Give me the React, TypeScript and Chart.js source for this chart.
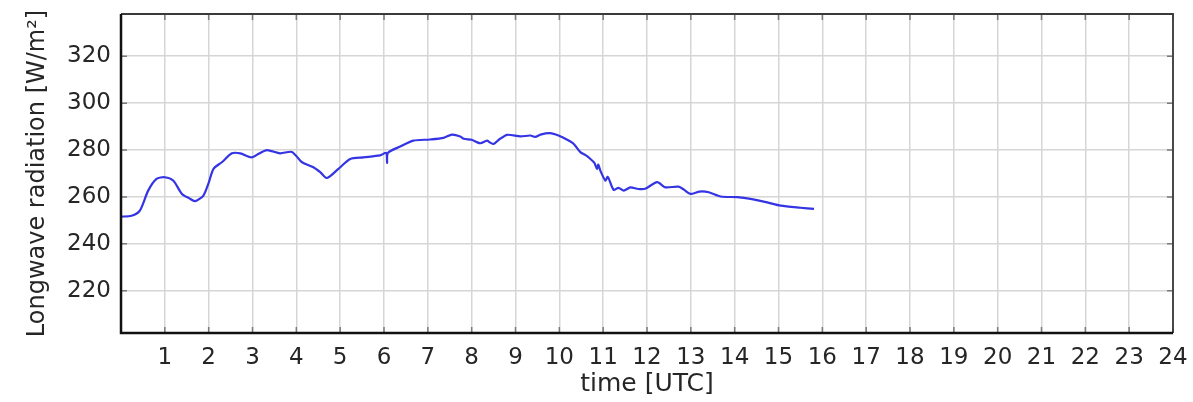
import { useEffect, useRef } from "react";
import { Chart, registerables } from "chart.js";

Chart.register(...registerables);

const hours = [
  0, 0.24, 0.43, 0.62, 0.81, 1.0, 1.19, 1.39, 1.55, 1.69, 1.88, 2.0, 2.11, 2.3,
  2.53, 2.72, 2.98, 3.15, 3.33, 3.63, 3.9, 4.13, 4.39, 4.55, 4.7, 4.96, 5.23,
  5.53, 5.91, 6.05, 6.07, 6.09, 6.37, 6.67, 7.05, 7.36, 7.55, 7.74, 7.82, 8.0,
  8.1, 8.2, 8.35, 8.42, 8.5, 8.62, 8.81, 9.11, 9.34, 9.45, 9.57, 9.79, 9.98,
  10.18, 10.33, 10.48, 10.6, 10.71, 10.8, 10.86, 10.89, 10.94, 11.05, 11.1,
  11.13, 11.24, 11.35, 11.47, 11.62, 11.8, 11.96, 12.23, 12.42, 12.72, 12.85,
  12.99, 13.2, 13.41, 13.68, 14.06, 14.36, 14.74, 15.05, 15.5, 15.81,
];

const radiation = [
  251.6, 252.0, 254.2, 262.7, 267.7, 268.4, 267.0, 261.3, 259.5, 258.2, 260.6,
  266.0, 272.0, 274.8, 278.6, 278.6, 276.9, 278.5, 280.0, 278.6, 279.2, 274.8,
  272.7, 270.5, 268.1, 272.0, 276.2, 276.9, 277.7, 278.8, 274.5, 278.8, 281.5,
  284.0, 284.5, 285.2, 286.6, 285.8, 284.8, 284.4, 283.5, 282.9, 284.0, 283.2,
  282.6, 284.4, 286.5, 285.8, 286.2, 285.6, 286.6, 287.2, 286.2, 284.4, 282.6,
  279.1, 277.8, 276.2, 274.5, 272.0, 273.8, 271.0, 267.0, 268.6, 267.7, 263.0,
  263.9, 262.7, 264.1, 263.4, 263.5, 266.3, 264.1, 264.4, 263.0, 261.3, 262.3,
  262.0, 260.2, 259.9, 259.2, 257.7, 256.3, 255.4, 254.9,
];

const xTickValues = [
  1, 2, 3, 4, 5, 6, 7, 8, 9, 10, 11, 12, 13, 14, 15, 16, 17, 18, 19, 20, 21, 22,
  23, 24,
];
const yTickValues = [220, 240, 260, 280, 300, 320];

const X_MIN = 0;
const X_MAX = 24;
const Y_MIN = 202;
const Y_MAX = 338;

const TEXT = "#262626";
const FONT = "'DejaVu Sans', sans-serif";

const boxPlugin = {
  id: "matlabBox",
  afterDatasetsDraw(chart: any) {
    const { ctx, chartArea } = chart;
    const { left, right, top, bottom } = chartArea;
    const xs = chart.scales.x;
    const ys = chart.scales.y;
    ctx.save();
    ctx.strokeStyle = "#7a7a7a";
    ctx.lineWidth = 1.5;
    ctx.beginPath();
    xTickValues.forEach((v) => {
      const px = xs.getPixelForValue(v);
      ctx.moveTo(px, bottom);
      ctx.lineTo(px, bottom - 6);
      ctx.moveTo(px, top);
      ctx.lineTo(px, top + 6);
    });
    yTickValues.forEach((v) => {
      const py = ys.getPixelForValue(v);
      ctx.moveTo(left, py);
      ctx.lineTo(left + 6, py);
      ctx.moveTo(right, py);
      ctx.lineTo(right - 6, py);
    });
    ctx.stroke();
    ctx.strokeStyle = "#3a3a3a";
    ctx.lineWidth = 1.8;
    ctx.beginPath();
    ctx.moveTo(left, top);
    ctx.lineTo(right, top);
    ctx.lineTo(right, bottom);
    ctx.stroke();
    ctx.strokeStyle = "#111111";
    ctx.lineWidth = 2.5;
    ctx.beginPath();
    ctx.moveTo(left, top);
    ctx.lineTo(left, bottom);
    ctx.lineTo(right, bottom);
    ctx.stroke();
    ctx.restore();
  },
};

export default function App() {
  const canvasRef = useRef<HTMLCanvasElement | null>(null);

  useEffect(() => {
    if (!canvasRef.current) return;
    const chart = new Chart(canvasRef.current, {
      type: "line",
      data: {
        datasets: [
          {
            data: hours.map((h, i) => ({ x: h, y: radiation[i] })),
            borderColor: "#3434e4",
            borderWidth: 2.2,
            pointRadius: 0,
            tension: 0.25,
            fill: false,
          },
        ],
      },
      options: {
        animation: false,
        responsive: true,
        maintainAspectRatio: false,
        layout: { padding: { top: 14, right: 20, left: 0, bottom: 0 } },
        plugins: {
          legend: { display: false },
          tooltip: { enabled: false },
        },
        scales: {
          x: {
            type: "linear",
            min: X_MIN,
            max: X_MAX,
            afterBuildTicks: (scale: any) => {
              scale.ticks = xTickValues.map((v) => ({ value: v }));
            },
            afterFit: (scale: any) => {
              scale.height = 69;
              scale.paddingLeft = 0;
              scale.paddingRight = 0;
            },
            grid: {
              color: "#d6d6d6",
              lineWidth: 1.5,
              drawTicks: false,
            },
            border: { display: false },
            ticks: {
              color: TEXT,
              font: { family: FONT, size: 23 },
              padding: 11,
              maxRotation: 0,
              autoSkip: false,
              callback: (v: any) => String(v),
            },
            title: {
              display: true,
              text: "time [UTC]",
              color: TEXT,
              font: { family: FONT, size: 25 },
              padding: { top: 0, bottom: 3 },
            },
          },
          y: {
            type: "linear",
            min: Y_MIN,
            max: Y_MAX,
            afterBuildTicks: (scale: any) => {
              scale.ticks = yTickValues.map((v) => ({ value: v }));
            },
            afterFit: (scale: any) => {
              scale.width = 121;
              scale.paddingTop = 0;
              scale.paddingBottom = 0;
            },
            grid: {
              color: "#d6d6d6",
              lineWidth: 1.5,
              drawTicks: false,
            },
            border: { display: false },
            ticks: {
              color: TEXT,
              font: { family: FONT, size: 23 },
              padding: 10,
              autoSkip: false,
              callback: (v: any) => String(v),
            },
            title: {
              display: true,
              text: "Longwave radiation [W/m²]",
              color: TEXT,
              font: { family: FONT, size: 24 },
              padding: { top: 23, bottom: 0 },
            },
          },
        },
      },
      plugins: [boxPlugin],
    });
    return () => chart.destroy();
  }, []);

  return (
    <div
      style={{
        position: "fixed",
        left: 0,
        top: 0,
        width: 1193,
        height: 402,
        background: "#ffffff",
      }}
    >
      <canvas ref={canvasRef} />
    </div>
  );
}
